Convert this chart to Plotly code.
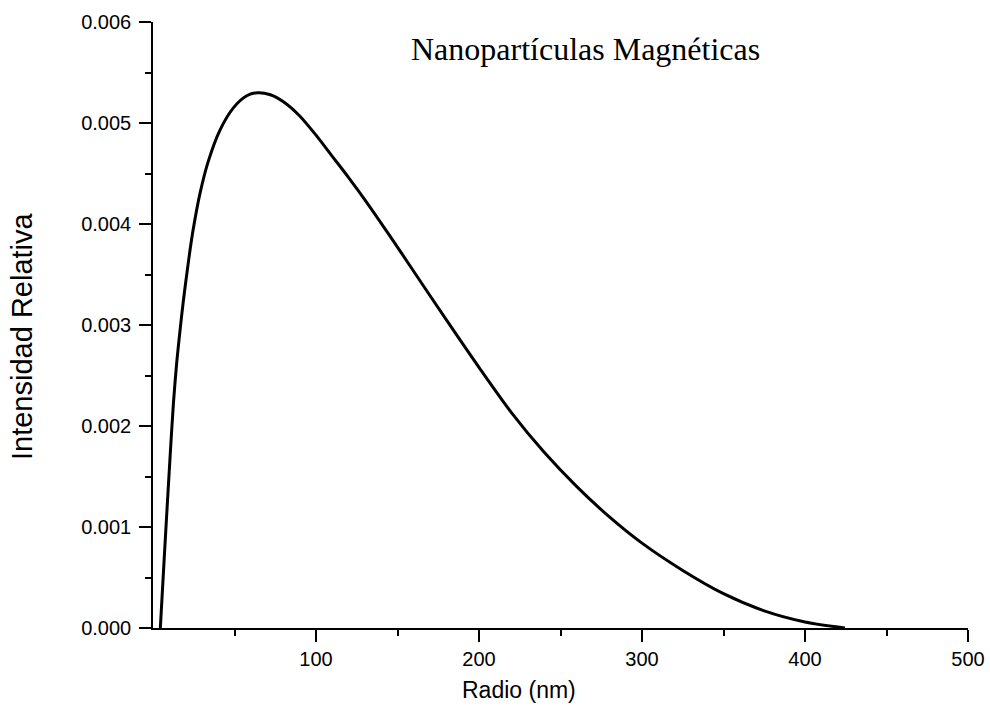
import plotly.graph_objects as go

radio_nm = [4.5, 6.5, 8.4, 10.5, 12.5, 14.5, 16.6, 18.7, 20.7, 22.7, 24.7, 28.8, 33.9, 41.1, 49.3,
            57.5, 64.0, 72.0, 80.0, 90.0, 100.0, 110.0, 120.0, 130.0, 145.0, 160.0, 180.0,
            200.0, 220.0, 240.0, 260.0, 280.0, 300.0, 325.0, 350.0, 375.0, 400.0, 424.5]
intensidad = [0.0, 0.00058, 0.00112, 0.00170, 0.00222, 0.00262, 0.00295, 0.00325, 0.00350, 0.00374,
              0.00395, 0.00430, 0.00462, 0.00493, 0.00515,
              0.00527, 0.00530, 0.00528, 0.00521, 0.00507, 0.00488, 0.00467, 0.00446, 0.00424,
              0.00389, 0.00353, 0.00305,
              0.00258, 0.00213, 0.00174, 0.00140, 0.00110, 0.00084, 0.00057, 0.00034,
              0.00017, 0.00006, 0.0]

x_ticks = [100, 200, 300, 400, 500]
x_minor = [50, 150, 250, 350, 450]
y_ticks = [0.000, 0.001, 0.002, 0.003, 0.004, 0.005, 0.006]
y_minor = [0.0005, 0.0015, 0.0025, 0.0035, 0.0045, 0.0055]

fig = go.Figure()
fig.add_trace(go.Scatter(x=radio_nm, y=intensidad, mode="lines",
                         line=dict(color="black", width=3, shape="spline", smoothing=0.8),
                         showlegend=False, hoverinfo="skip"))

sans = "Liberation Sans, Arial"
tickfont = dict(family=sans, size=20, color="black")
fig.update_layout(
    width=990, height=717,
    margin=dict(l=153, r=22, t=22, b=89),
    paper_bgcolor="white", plot_bgcolor="white",
    xaxis=dict(range=[0, 500], tickvals=x_ticks, ticks="outside", ticklen=12, tickwidth=1.5,
               tickcolor="black", showline=True, linecolor="black", linewidth=1.5,
               showgrid=False, zeroline=False, tickfont=tickfont, automargin=False,
               minor=dict(tickvals=x_minor, ticks="outside", ticklen=6, tickwidth=1.5, tickcolor="black")),
    yaxis=dict(range=[0, 0.006], tickvals=y_ticks, tickformat=".3f", ticks="outside", ticklen=12,
               tickwidth=1.5, tickcolor="black", showline=True, linecolor="black", linewidth=1.5,
               showgrid=False, zeroline=False, tickfont=tickfont, automargin=False, ticklabelstandoff=4,
               minor=dict(tickvals=y_minor, ticks="outside", ticklen=6, tickwidth=1.5, tickcolor="black")),
    annotations=[
        dict(text="Nanopartículas Magnéticas", xref="paper", yref="paper", x=0.531, y=0.955,
             xanchor="center", yanchor="middle", showarrow=False,
             font=dict(family="Liberation Serif, Times New Roman", size=32, color="black")),
        dict(text="Radio (nm)", xref="paper", yref="paper", x=(519 - 153) / 815, y=-(690 - 628) / 606,
             xanchor="center", yanchor="middle", showarrow=False,
             font=dict(family=sans, size=23, color="black")),
        dict(text="Intensidad Relativa", xref="paper", yref="paper", x=-(153 - 22) / 815,
             y=(628 - 336) / 606, xanchor="center", yanchor="middle", showarrow=False, textangle=-90,
             font=dict(family=sans, size=29, color="black")),
    ],
)

fig.write_html("out.html")
